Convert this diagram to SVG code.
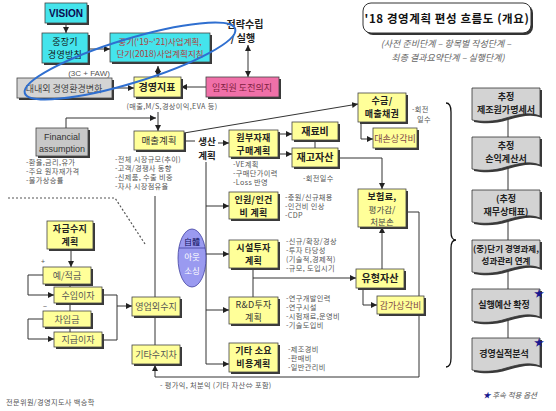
<svg xmlns="http://www.w3.org/2000/svg" width="556" height="411" viewBox="0 0 556 411">
<style>
text{font-family:"Noto Sans CJK KR","Noto Sans",sans-serif;}
.sh{fill:#3a3a3a;}
.y{fill:#ffff99;stroke:#444;stroke-width:0.8;}
.c{fill:#44e4ec;stroke:#444;stroke-width:0.8;}
.g{fill:#d4d4d4;stroke:#444;stroke-width:0.8;}
.p{fill:#f070a8;stroke:#444;stroke-width:0.8;}
.t{font-size:10px;font-weight:bold;fill:#222;text-anchor:middle;}
.t2{font-size:9px;font-weight:bold;fill:#222;text-anchor:middle;letter-spacing:0.3px;}
.tl{font-size:9px;fill:#555;text-anchor:middle;}
.n{font-size:7.2px;fill:#555;letter-spacing:0.35px;}
.ln{fill:none;stroke:#333;stroke-width:1;}
.ar{fill:none;stroke:#333;stroke-width:1;marker-end:url(#a);}
.d{fill:#d3d3d3;stroke:#333;stroke-width:0.8;}
.dt{font-size:9px;font-weight:bold;fill:#222;text-anchor:middle;}
.st{fill:#1a1a90;font-size:10px;}
</style>
<defs>
<marker id="a" viewBox="0 0 8 8" refX="8" refY="4" markerWidth="6" markerHeight="6" orient="auto-start-reverse" markerUnits="userSpaceOnUse"><path d="M0,0 L8,4 L0,8 z" fill="#222"/></marker>
<path id="doc" d="M0,0 H68 V28 C58,24 48,26 34,30 C22,34 10,34 0,32 Z"/>
</defs>

<g id="connectors">
<path class="ar" d="M66,23 V33"/>
<path class="ar" d="M88,49 H110"/>
<path class="ar" d="M158,66 V77" style="marker-start:url(#a)"/>
<path class="ar" d="M248,45 V77" style="marker-start:url(#a)"/>
<path class="ar" d="M112,88 H134"/>
<path class="ar" d="M206,87 H181"/>
<path class="ar" d="M158,112 V131"/>
<path class="ar" d="M66,128 V118 H156"/>
<path class="ar" d="M184,133 L358,104"/>
<path class="ln" d="M184,141 H195"/>
<path class="ar" d="M218,143 H229"/>
<path class="ar" d="M278,134 H292"/>
<path class="ar" d="M278,154 H292"/>
<path class="ln" d="M315,140 V148"/>
<path class="ar" d="M338,158 H382 V189"/>
<path class="ar" d="M361,122 V139 H373"/>
<path class="ar" d="M382,269 V227"/>
<path class="ar" d="M406,212 H419 V377 H155 V365"/>
<path class="ln" d="M253,268 V297"/>
<path class="ar" d="M253,278 H356"/>
<path class="ar" d="M363,288 V305 H377"/>
<path class="ar" d="M206,162 V364 H229"/>
<path class="ar" d="M206,206 H229"/>
<path class="ar" d="M206,254 H229"/>
<path class="ar" d="M206,310 H229"/>
<path class="ln" d="M155,196 V297"/>
<path class="ln" d="M155,316 V345"/>
<path class="ar" d="M71,249 V267"/>
<path class="ar" d="M43,275 H28 V295 H54"/>
<path class="ln" d="M70,284 V287 M70,303 V311 M70,327 V332"/>
<path class="ar" d="M43,319 H28 V339 H54"/>
<path class="ln" d="M102,295 H117 V340 H102"/>
<path class="ar" d="M117,306 H132"/>
<path class="ln" d="M508,118 V137 M508,168 V190 M508,221 V240 M508,271 V289 M508,320 V338"/>
<path d="M8,198 H115 L145,244" fill="none" stroke="#555" stroke-width="1.2" stroke-dasharray="2,2"/>
<path d="M446,103 Q451,103 451,112 V232 Q451,240 456,240 Q451,240 451,248 V358 Q451,367 446,367" fill="none" stroke="#111" stroke-width="1.3"/>
</g>

<g id="vision"><rect class="sh" x="47" y="5" width="42" height="20"/><rect class="c" x="45" y="3" width="42" height="20"/><text class="t" x="66" y="17" style="fill:#0a0a50;font-family:'Liberation Sans',sans-serif">VISION</text></g>
<g id="midlong"><rect class="sh" x="44" y="35" width="46" height="30"/><rect class="c" x="42" y="33" width="46" height="30"/><text class="t2" x="65" y="45" style="font-weight:normal;fill:#111">중장기</text><text class="t2" x="65" y="58" style="font-weight:normal;fill:#111">경영방침</text></g>
<g id="plan"><rect class="sh" x="112" y="35" width="100" height="29"/><rect class="c" x="110" y="33" width="100" height="29"/><text class="tl" x="160" y="44.5" style="font-size:8.5px;fill:#b04040">중기('19~'21)사업계획,</text><text class="tl" x="160" y="57" style="font-size:8.5px;fill:#b04040">단기(2018)사업계획지침</text></g>
<g id="env"><rect class="sh" x="19" y="80" width="95" height="20"/><rect class="g" x="17" y="78" width="95" height="20"/><text class="tl" x="64" y="92" style="fill:#444">대내외 경영환경변화</text></g>
<g id="kpi"><rect class="sh" x="136" y="79" width="47" height="20"/><rect class="y" x="134" y="77" width="47" height="20"/><text class="t" x="157" y="91">경영지표</text></g>
<g id="will"><rect class="sh" x="208" y="79" width="73" height="20"/><rect class="p" x="206" y="77" width="73" height="20"/><text class="tl" x="242" y="91" style="fill:#802040">임직원 도전의지</text></g>
<g id="sales"><rect class="sh" x="136" y="133" width="50" height="19"/><rect class="y" x="134" y="131" width="50" height="19"/><text class="tl" x="159" y="144" style="font-size:9.5px;fill:#333">매출계획</text></g>
<g id="fin"><rect class="sh" x="38" y="130" width="52" height="28"/><rect class="g" x="36" y="128" width="52" height="28" style="fill:#c8c8c8"/><text class="tl" x="62" y="140" style="font-family:'Liberation Sans',sans-serif;fill:#333">Financial</text><text class="tl" x="62" y="152" style="font-family:'Liberation Sans',sans-serif;fill:#333">assumption</text></g>
<g id="purchase"><rect class="sh" x="231" y="132" width="49" height="27"/><rect class="y" x="229" y="130" width="49" height="27"/><text class="t2" x="253.5" y="141">원부자재</text><text class="t2" x="253.5" y="154">구매계획</text></g>
<g id="material"><rect class="sh" x="294" y="124" width="46" height="18"/><rect class="y" x="292" y="122" width="46" height="18"/><text class="t" x="315" y="135">재료비</text></g>
<g id="inventory"><rect class="sh" x="294" y="150" width="46" height="19"/><rect class="y" x="292" y="148" width="46" height="19"/><text class="t" x="315" y="161">재고자산</text></g>
<g id="receivable"><rect class="sh" x="360" y="95" width="48" height="29"/><rect class="y" x="358" y="93" width="48" height="29"/><text class="t2" x="382" y="104">수금/</text><text class="t2" x="382" y="117">매출채권</text></g>
<g id="baddebt"><rect class="sh" x="375" y="130" width="44" height="20"/><rect class="y" x="373" y="128" width="44" height="20"/><text class="tl" x="395" y="142" style="fill:#804848">대손상각비</text></g>
<g id="insurance"><rect class="sh" x="360" y="191" width="48" height="38"/><rect class="y" x="358" y="189" width="48" height="38"/><text class="t2" x="382" y="200">보험료,</text><text class="tl" x="382" y="213" style="font-size:8.5px;fill:#444">평가감/</text><text class="tl" x="382" y="225" style="font-size:8.5px;fill:#444">처분손</text></g>
<g id="labor"><rect class="sh" x="231" y="194" width="49" height="27"/><rect class="y" x="229" y="192" width="49" height="27"/><text class="t2" x="253.5" y="203">인원/인건</text><text class="t2" x="253.5" y="216">비 계획</text></g>
<g id="facility"><rect class="sh" x="231" y="242" width="49" height="28"/><rect class="y" x="229" y="240" width="49" height="28"/><text class="t2" x="253.5" y="251">시설투자</text><text class="t2" x="253.5" y="264">계획</text></g>
<g id="tangible"><rect class="sh" x="358" y="271" width="48" height="19"/><rect class="y" x="356" y="269" width="48" height="19"/><text class="t" x="380" y="282">유형자산</text></g>
<g id="depreciation"><rect class="sh" x="379" y="298" width="47" height="18"/><rect class="y" x="377" y="296" width="47" height="18"/><text class="tl" x="400.5" y="309" style="fill:#804848">감가상각비</text></g>
<g id="rnd"><rect class="sh" x="231" y="299" width="49" height="27"/><rect class="y" x="229" y="297" width="49" height="27"/><text class="t2" x="253.5" y="308" style="font-weight:normal;fill:#333">R&amp;D투자</text><text class="t2" x="253.5" y="321" style="font-weight:normal;fill:#333">계획</text></g>
<g id="other"><rect class="sh" x="231" y="345" width="49" height="29"/><rect class="y" x="229" y="343" width="49" height="29"/><text class="t2" x="253.5" y="354">기타 소요</text><text class="t2" x="253.5" y="367">비용계획</text></g>
<g id="nonop"><rect class="sh" x="134" y="299" width="48" height="19"/><rect class="y" x="132" y="297" width="48" height="19"/><text class="tl" x="156" y="310">영업외수지</text></g>
<g id="otherdiff"><rect class="sh" x="134" y="347" width="48" height="19"/><rect class="y" x="132" y="345" width="48" height="19"/><text class="tl" x="156" y="358">기타수지차</text></g>
<g id="fund"><rect class="sh" x="49" y="223" width="46" height="28"/><rect class="y" x="47" y="221" width="46" height="28"/><text class="t2" x="70" y="232">자금수지</text><text class="t2" x="70" y="245">계획</text></g>
<g id="deposit"><rect class="sh" x="45" y="269" width="48" height="17"/><rect class="y" x="43" y="267" width="48" height="17"/><text class="tl" x="67" y="279">예/적금</text></g>
<g id="interestin"><rect class="sh" x="56" y="289" width="48" height="16"/><rect class="y" x="54" y="287" width="48" height="16"/><text class="tl" x="78" y="299">수입이자</text></g>
<g id="loan"><rect class="sh" x="45" y="313" width="48" height="16"/><rect class="y" x="43" y="311" width="48" height="16"/><text class="tl" x="67" y="323">차입금</text></g>
<g id="interestout"><rect class="sh" x="56" y="334" width="48" height="15"/><rect class="y" x="54" y="332" width="48" height="15"/><text class="tl" x="78" y="343">지급이자</text></g>
<g id="outsourcing"><ellipse cx="192" cy="258" rx="14" ry="29" fill="#9a9af0" stroke="#4040a0" stroke-width="0.8"/><line x1="179" y1="248" x2="205" y2="248" stroke="#4040a0" stroke-width="0.8"/><text x="192" y="245" font-size="8" fill="#101060" text-anchor="middle">自體</text><text x="192" y="260" font-size="8.5" fill="#fff" text-anchor="middle">아웃</text><text x="192" y="274" font-size="8.5" fill="#fff" text-anchor="middle">소싱</text></g>
<g id="title"><rect x="365" y="5" width="168" height="30" rx="8" fill="#333"/><rect x="363" y="3" width="168" height="30" rx="8" fill="#fff" stroke="#333" stroke-width="1"/><text x="447" y="23" font-size="11.5" font-weight="bold" fill="#111" text-anchor="middle" letter-spacing="0.6">'18 경영계획 편성 흐름도 (개요)</text></g>

<g id="doc1"><use href="#doc" class="sh" transform="translate(474,90)"/><use href="#doc" class="d" transform="translate(472,88)"/><text class="dt" x="506" y="99.5">추정</text><text class="dt" x="506" y="112.5">제조원가명세서</text></g>
<g id="doc2"><use href="#doc" class="sh" transform="translate(474,139)"/><use href="#doc" class="d" transform="translate(472,137)"/><text class="dt" x="506" y="149">추정</text><text class="dt" x="506" y="162">손익계산서</text></g>
<g id="doc3"><use href="#doc" class="sh" transform="translate(474,192)"/><use href="#doc" class="d" transform="translate(472,190)"/><text class="dt" x="506" y="202">(추정</text><text class="dt" x="506" y="215">재무상태표)</text></g>
<g id="doc4"><use href="#doc" class="sh" transform="translate(474,242)"/><use href="#doc" class="d" transform="translate(472,240)"/><text class="dt" x="506" y="251.5" style="font-size:8.5px">(중)단기 경영과제,</text><text class="dt" x="506" y="264" style="font-size:8.5px">성과관리 연계</text></g>
<g id="doc5"><use href="#doc" class="sh" transform="translate(474,291)"/><use href="#doc" class="d" transform="translate(472,289)"/><text class="dt" x="504" y="308">실행예산 확정</text><text class="st" x="534" y="297">★</text></g>
<g id="doc6"><use href="#doc" class="sh" transform="translate(474,340)"/><use href="#doc" class="d" transform="translate(472,338)"/><text class="dt" x="504" y="357">경영실적분석</text><text class="st" x="534" y="346">★</text></g>

<g id="labels">
<text x="89" y="76" font-size="8" fill="#555" text-anchor="middle" style="font-family:'Liberation Sans',sans-serif">(3C + FAW)</text>
<text x="245" y="28" font-size="10" font-weight="bold" fill="#222" text-anchor="middle">전략수립</text>
<text x="243" y="42" font-size="10" font-weight="bold" fill="#222" text-anchor="middle">/ 실행</text>
<text x="172" y="109" class="n" text-anchor="middle">(매출,M/S,경상이익,EVA 등)</text>
<text x="207" y="145" font-size="9.5" font-weight="bold" fill="#222" text-anchor="middle">생산</text>
<text x="207" y="159" font-size="9.5" font-weight="bold" fill="#222" text-anchor="middle">계획</text>
<text class="n" x="412" y="112">-회전</text><text class="n" x="417" y="122">일수</text>
<text class="n" x="303" y="181">-회전일수</text>
<text class="n" x="233" y="167">-VE계획</text><text class="n" x="233" y="176">-구매단가이력</text><text class="n" x="233" y="185">-Loss 반영</text>
<text class="n" x="285" y="200">-충원/신규채용</text><text class="n" x="285" y="209">-인건비 인상</text><text class="n" x="285" y="218">-CDP</text>
<text class="n" x="286" y="244">-신규/확장/경상</text><text class="n" x="286" y="253">-투자 타당성</text><text class="n" x="286" y="262">(기술적,경제적)</text><text class="n" x="286" y="271">-규모, 도입시기</text>
<text class="n" x="286" y="301">-연구개발인력</text><text class="n" x="286" y="310">-연구시설</text><text class="n" x="286" y="319">-시험재료,운영비</text><text class="n" x="286" y="328">-기술도입비</text>
<text class="n" x="288" y="352">-제조경비</text><text class="n" x="288" y="361">-판매비</text><text class="n" x="288" y="370">-일반관리비</text>
<text class="n" x="115" y="162">-전체 시장규모(추이)</text><text class="n" x="115" y="171">-고객/경쟁사 동향</text><text class="n" x="115" y="180">-신제품, 수출 비중</text><text class="n" x="115" y="189">-자사 시장점유율</text>
<text class="n" x="26" y="165">-환율,금리,유가</text><text class="n" x="26" y="174">-주요 원자재가격</text><text class="n" x="26" y="183">-물가상승률</text>
<text class="n" x="41" y="264">+</text><text class="n" x="43" y="309">−</text>
<text class="n" x="160" y="388">- 평가익, 처분익 (기타 자산⇔ 포함)</text>
<text class="n" x="6" y="405">전문위원/경영지도사 백승학</text>
<text x="446" y="47" font-size="9" font-style="italic" fill="#666" text-anchor="middle">(사전 준비단계 – 항목별 작성단계 –</text>
<text x="448" y="61" font-size="9" font-style="italic" fill="#666" text-anchor="middle">최종 결과요약단계 – 실행단계)</text>
<text x="483" y="398" font-size="7.5" font-style="italic" fill="#555"><tspan fill="#1a1a90">★</tspan> 후속 적용 옵션</text>
</g>
<g id="focus"><ellipse cx="130" cy="61" rx="110" ry="22" transform="rotate(-17 130 61)" fill="none" stroke="#2f6fd0" stroke-width="2"/></g>
</svg>
